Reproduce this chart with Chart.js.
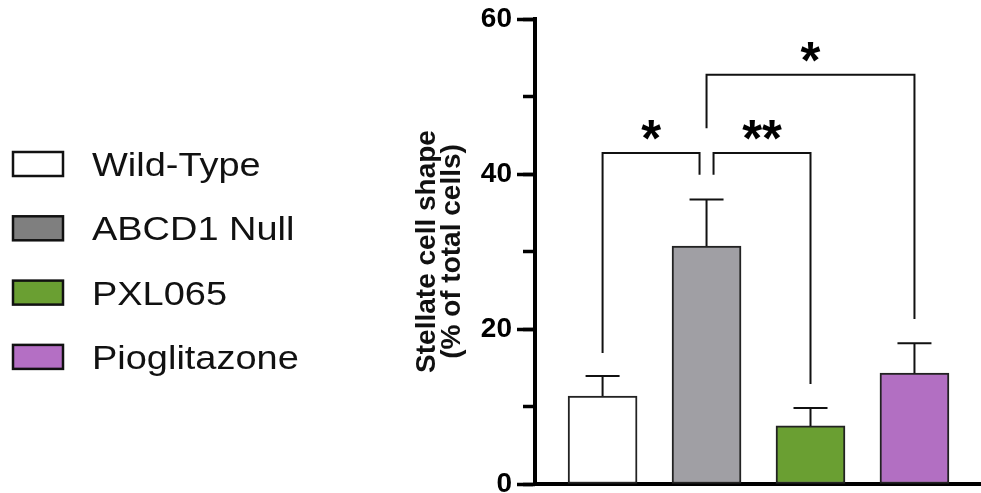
<!DOCTYPE html>
<html>
<head>
<meta charset="utf-8">
<script src="https://cdn.jsdelivr.net/npm/chart.js@4.4.1/dist/chart.umd.min.js"></script>
<style>
  html, body { margin: 0; padding: 0; background: #fff; }
  #wrap { width: 981px; height: 493px; }
</style>
</head>
<body>
<div id="wrap"><canvas id="myChart" width="981" height="493"></canvas></div>
<script>
// values
const groups = ['Wild-Type', 'ABCD1 Null', 'PXL065', 'Pioglitazone'];
const groupPos = [0, 1, 2, 3];
const means = [11.35, 30.7, 7.5, 14.3];
const sems = [2.6, 6.0, 2.3, 3.85];
const yTicks = [0, 20, 40, 60];
const yMinorTicks = [0, 10, 20, 30, 40, 50, 60];

// significance brackets (group indexes, heights in % units)
const compFrom = [0, 1, 1];
const compTo = [1, 2, 3];
const compTop = [42.7, 42.7, 52.8];
const compFromEnd = [16.9, 39.9, 45.9];
const compToEnd = [39.9, 12.9, 21.3];
const compLabels = ['*', '**', '*'];

// styles
const barColors = ['#ffffff', '#a09fa4', '#6a9f32', '#b26fc2'];
const legendColors = ['#ffffff', '#7f7f7f', '#6a9f32', '#b46fc4'];
const legShift = [[0, -7], [7, 0], [0, 0]];
const FONT = '"Liberation Sans", Arial, sans-serif';

// error bars (upper whisker only)
const errorBars = {
  id: 'errorBars',
  afterDatasetsDraw(chart) {
    const ctx = chart.ctx;
    const ys = chart.scales.y;
    ctx.save();
    ctx.strokeStyle = '#111';
    ctx.lineWidth = 2;
    chart.getDatasetMeta(0).data.forEach((bar, i) => {
      const yMean = ys.getPixelForValue(means[i]);
      const yHi = ys.getPixelForValue(means[i] + sems[i]);
      ctx.beginPath();
      ctx.moveTo(bar.x, yMean);
      ctx.lineTo(bar.x, yHi);
      ctx.moveTo(bar.x - 17, yHi);
      ctx.lineTo(bar.x + 17, yHi);
      ctx.stroke();
    });
    ctx.restore();
  }
};

// comparison brackets with stars
const brackets = {
  id: 'brackets',
  afterDatasetsDraw(chart) {
    const ctx = chart.ctx;
    const ys = chart.scales.y;
    const bars = chart.getDatasetMeta(0).data;
    ctx.save();
    ctx.strokeStyle = '#111';
    ctx.lineWidth = 2;
    compFrom.forEach((a, k) => {
      const x1 = bars[a].x + legShift[k][0];
      const x2 = bars[compTo[k]].x + legShift[k][1];
      const yTop = ys.getPixelForValue(compTop[k]);
      ctx.beginPath();
      ctx.moveTo(x1, ys.getPixelForValue(compFromEnd[k]));
      ctx.lineTo(x1, yTop);
      ctx.lineTo(x2, yTop);
      ctx.lineTo(x2, ys.getPixelForValue(compToEnd[k]));
      ctx.stroke();
      ctx.fillStyle = '#000';
      ctx.font = 'bold 51px ' + FONT;
      ctx.textAlign = 'center';
      ctx.textBaseline = 'alphabetic';
      ctx.fillText(compLabels[k], (x1 + x2) / 2, yTop + 3);
    });
    ctx.restore();
  }
};

// legend on the left side
const sideLegend = {
  id: 'sideLegend',
  afterDraw(chart) {
    const ctx = chart.ctx;
    ctx.save();
    groups.forEach((g, i) => {
      const cy = 164 + i * 64.3;
      ctx.fillStyle = legendColors[i];
      ctx.fillRect(13, cy - 12, 50, 24);
      ctx.lineWidth = 2.5;
      ctx.strokeStyle = '#111';
      ctx.strokeRect(13, cy - 12, 50, 24);
      ctx.save();
      ctx.translate(92, cy + 12);
      ctx.scale(1.15, 1);
      ctx.font = '33px ' + FONT;
      ctx.fillStyle = '#111';
      ctx.textBaseline = 'alphabetic';
      ctx.fillText(g, 0, 0);
      ctx.restore();
    });
    ctx.restore();
  }
};

const ctx1 = document.getElementById('myChart');

new Chart(ctx1, {
  type: 'bar',
  data: {
    datasets: [{
      label: 'Stellate cell shape',
      data: groupPos.map((p, i) => ({ x: p, y: means[i] })),
      backgroundColor: barColors,
      borderColor: '#222',
      borderWidth: 2,
      borderSkipped: false,
      barThickness: 69
    }]
  },
  options: {
    responsive: false,
    animation: false,
    devicePixelRatio: 1,
    layout: { padding: { left: 400, top: 19, right: 0, bottom: 9 } },
    plugins: {
      legend: { display: false },
      tooltip: { enabled: false }
    },
    scales: {
      x: {
        type: 'linear',
        min: -0.65,
        max: 3.64,
        offset: false,
        z: 1,
        ticks: { display: false },
        grid: { display: false, drawTicks: false, offset: false },
        border: { display: true, color: '#000', width: 4 },
        afterFit: s => { s.height = 0; s.paddingLeft = 0; s.paddingRight = 0; }
      },
      y: {
        type: 'linear',
        position: 'left',
        weight: 1,
        min: 0,
        max: 60,
        afterBuildTicks: s => { s.ticks = yTicks.map(v => ({ value: v })); },
        afterFit: s => { s.width = 135; s.paddingTop = 0; s.paddingBottom = 0; },
        ticks: {
          color: '#000',
          padding: 5,
          font: { family: FONT, size: 28, weight: 'bold' }
        },
        grid: { drawOnChartArea: false, tickLength: 18, tickWidth: 3.5, tickColor: '#000' },
        border: { display: true, color: '#000', width: 4 },
        title: {
          display: true,
          text: ['Stellate cell shape', '(% of total cells)'],
          color: '#111',
          padding: { top: 14.5, bottom: 0 },
          font: { family: FONT, size: 28, weight: 'bold', lineHeight: '25px' }
        }
      },
      yMinor: {
        type: 'linear',
        position: 'left',
        weight: 0,
        min: 0,
        max: 60,
        afterBuildTicks: s => { s.ticks = yMinorTicks.map(v => ({ value: v })); },
        afterFit: s => { s.width = 0; s.paddingTop = 0; s.paddingBottom = 0; },
        ticks: { display: false },
        grid: { drawOnChartArea: false, tickLength: 12, tickWidth: 3.5, tickColor: '#000' },
        border: { display: false }
      }
    }
  },
  plugins: [errorBars, brackets, sideLegend]
});
</script>
</body>
</html>
